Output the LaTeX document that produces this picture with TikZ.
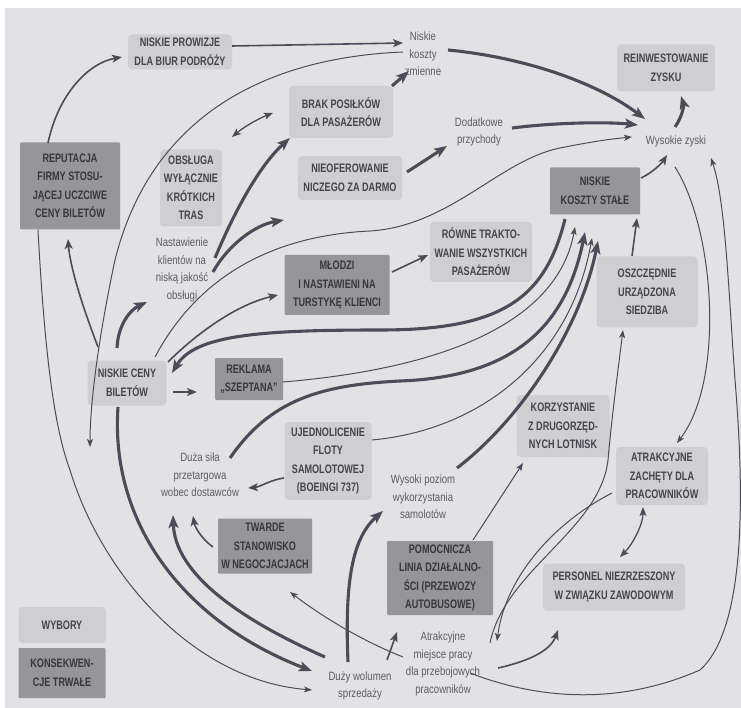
\documentclass[tikz,border=0pt]{standalone}
\usepackage{fontspec}
\setmainfont{Liberation Sans}
\newfontfamily\boxfont{Liberation Sans}[FakeStretch=0.74]
\newfontfamily\notefont{Liberation Sans}[FakeStretch=0.8]
\usetikzlibrary{arrows.meta,calc,positioning}

\definecolor{pagegray}{RGB}{226,226,229}
\definecolor{choicegray}{RGB}{207,207,210}
\definecolor{conseqgray}{RGB}{150,150,153}
\definecolor{boxtext}{RGB}{68,68,76}
\definecolor{darktext}{RGB}{54,54,60}
\definecolor{notetext}{RGB}{92,92,100}
\definecolor{linecol}{RGB}{76,76,88}

\tikzset{
	choice/.style={fill=choicegray, rounded corners=4pt, align=center, inner sep=2pt,
		text=boxtext, font=\boxfont\bfseries\fontsize{12.3}{18.5}\selectfont},
	conseq/.style={choice, fill=conseqgray, rounded corners=1pt, text=darktext},
	note/.style={align=center, inner sep=1pt, text=notetext,
		font=\notefont\fontsize{12}{17.5}\selectfont},
	link/.style={draw=linecol, line width=1pt, -{Stealth[length=8pt,width=6pt,inset=2pt]}},
	midlink/.style={draw=linecol, line width=1.6pt, -{Stealth[length=10pt,width=8pt,inset=2.5pt]}},
	boldlink/.style={draw=linecol, line width=3.1pt, -{Stealth[length=13pt,width=10pt,inset=3pt]}},
	twoway/.style={draw=linecol, line width=1.3pt, {Stealth[length=9pt,width=7pt,inset=2pt]}-{Stealth[length=9pt,width=7pt,inset=2pt]}}
}

\begin{document}
\begin{tikzpicture}[x=1pt,y=-1pt]

	% ---------------------
	% Page
	\useasboundingbox (0,0) rectangle (741,708);
	\fill[white] (0,0) rectangle (741,708);
	\fill[pagegray] (5,8) rectangle (741,708);

	% ---------------------
	% Wybory
	\node[choice, minimum width=104pt, minimum height=35pt] (Prowizje) at (180,52) {NISKIE PROWIZJE\\DLA BIUR PODRÓŻY};
	\node[choice, minimum width=98pt, minimum height=47pt] (Reinwestowanie) at (666,68) {REINWESTOWANIE\\ZYSKU};
	\node[choice, minimum width=104pt, minimum height=52pt] (BrakPosilkow) at (341,112) {BRAK POSIŁKÓW\\DLA PASAŻERÓW};
	\node[choice, minimum width=62pt, minimum height=77pt] (Obsluga) at (191,188) {OBSŁUGA\\WYŁĄCZNIE\\KRÓTKICH\\TRAS};
	\node[choice, minimum width=104pt, minimum height=44pt] (Nieoferowanie) at (350,178) {NIEOFEROWANIE\\NICZEGO ZA DARMO};
	\node[choice, minimum width=102pt, minimum height=60pt] (Rowne) at (481,252) {RÓWNE TRAKTO-\\WANIE WSZYSTKICH\\PASAŻERÓW};
	\node[choice, minimum width=101pt, minimum height=71pt] (Siedziba) at (647,292) {OSZCZĘDNIE\\URZĄDZONA\\SIEDZIBA};
	\node[choice, minimum width=79pt, minimum height=45pt] (NiskieCeny) at (127,383) {NISKIE CENY\\BILETÓW};
	\node[choice, minimum width=93pt, minimum height=62pt] (Lotniska) at (563,426) {KORZYSTANIE\\Z DRUGORZĘD-\\NYCH LOTNISK};
	\node[choice, minimum width=87pt, minimum height=78pt] (Flota) at (328,461) {UJEDNOLICENIE\\FLOTY\\SAMOLOTOWEJ\\(BOEINGI 737)};
	\node[choice, minimum width=92pt, minimum height=58pt] (Zachety) at (662,476) {ATRAKCYJNE\\ZACHĘTY DLA\\PRACOWNIKÓW};
	\node[choice, minimum width=142pt, minimum height=47pt] (Personel) at (614,587) {PERSONEL NIEZRZESZONY\\W ZWIĄZKU ZAWODOWYM};

	% ---------------------
	% Konsekwencje trwale
	\node[conseq, minimum width=100pt, minimum height=87pt] (Reputacja) at (70,186) {REPUTACJA\\FIRMY STOSU-\\JĄCEJ UCZCIWE\\CENY BILETÓW};
	\node[conseq, minimum width=90pt, minimum height=47pt] (KosztyStale) at (595,191) {NISKIE\\KOSZTY STAŁE};
	\node[conseq, minimum width=105pt, minimum height=60pt] (Mlodzi) at (337,285) {MŁODZI\\I NASTAWIENI NA\\TURSTYKĘ KLIENCI};
	\node[conseq, minimum width=68pt, minimum height=42pt] (Reklama) at (249,379) {REKLAMA\\„SZEPTANA”};
	\node[conseq, minimum width=94pt, minimum height=55pt] (Twarde) at (265,546) {TWARDE\\STANOWISKO\\W NEGOCJACJACH};
	\node[conseq, minimum width=106pt, minimum height=74pt] (Autobusy) at (440,578) {POMOCNICZA\\LINIA DZIAŁALNO-\\ŚCI (PRZEWOZY\\AUTOBUSOWE)};

	% ---------------------
	% Skutki (plain text)
	\node[note] (KosztyZmienne) at (423,54) {Niskie\\koszty\\zmienne};
	\node[note] (Przychody) at (479,132) {Dodatkowe\\przychody};
	\node[note] (Zyski) at (676,141) {Wysokie zyski};
	\node[note] (Nastawienie) at (182,270) {Nastawienie\\klientów na\\niską jakość\\obsługi};
	\node[note] (SilaPrzetargowa) at (200,475) {Duża siła\\przetargowa\\wobec dostawców};
	\node[note] (Wykorzystanie) at (423,497) {Wysoki poziom\\wykorzystania\\samolotów};
	\node[note] (Wolumen) at (360,686) {Duży wolumen\\sprzedaży};
	\node[note] (Miejsce) at (443,664) {Atrakcyjne\\miejsce pracy\\dla przebojowych\\pracowników};

	% ---------------------
	% Legend
	\node[choice, minimum width=87pt, minimum height=36pt] (Wybory) at (62,625) {WYBORY};
	\node[conseq, minimum width=87pt, minimum height=50pt] (Konsekwencje) at (62,673) {KONSEKWEN-\\CJE TRWAŁE};

	% ------------------------------------------------
	% Top part
	\draw[midlink] ($(Reputacja)+(-22,-43)$) .. controls (58,95) and (88,63) .. ($(Prowizje)+(-58,5)$);
	\draw[midlink] ($(Prowizje)+(52,-6)$) -- ($(KosztyZmienne)+(-20,-11)$);
	\draw[link] ($(KosztyZmienne)+(-20,-2)$) .. controls (260,58) and (150,120) .. (115,260)
		.. controls (100,330) and (90,400) .. (90,447);
	\draw[boldlink] ($(KosztyZmienne)+(25,-4)$) .. controls (530,58) and (600,85) .. ($(Zyski)+(-31,-22)$);
	\draw[boldlink] ($(BrakPosilkow)+(51,-26)$) -- ($(KosztyZmienne)+(-14,17)$);
	\draw[twoway] ($(Obsluga)+(41,-51)$) .. controls (245,126) and (260,118) .. ($(BrakPosilkow)+(-68,1)$);
	\draw[boldlink] ($(Nieoferowanie)+(57,-6)$) -- ($(Przychody)+(-32,14)$);
	\draw[boldlink] ($(Przychody)+(33,-4)$) .. controls (560,122) and (610,122) .. ($(Zyski)+(-38,-16)$);
	\draw[midlink] ($(KosztyStale)+(46,-13)$) .. controls (652,173) and (662,163) .. ($(Zyski)+(-9,14)$);
	\draw[boldlink] ($(Zyski)+(-1,-14)$) .. controls (682,117) and (684,106) .. ($(Reinwestowanie)+(15,28)$);
	\draw[midlink] ($(Siedziba)+(-15,-36)$) -- ($(KosztyStale)+(42,27)$);
	\draw[link] ($(Zyski)+(-1,26)$) .. controls (715,230) and (725,380) .. ($(Zachety)+(15,-33)$);

	% ------------------------------------------------
	% Niskie ceny biletow
	\draw[link] ($(NiskieCeny)+(28,-26)$) .. controls (195,282) and (265,236) .. (370,231)
		.. controls (450,226) and (500,160) .. (560,148)
		.. controls (590,142) and (610,139) .. ($(Zyski)+(-44,-4)$);
	\draw[midlink] ($(NiskieCeny)+(41,-21)$) .. controls (195,335) and (235,305) .. ($(Mlodzi)+(-59,10)$);
	\draw[boldlink] ($(NiskieCeny)+(-10,-35)$) .. controls (118,325) and (130,310) .. ($(Nastawienie)+(-35,32)$);
	\draw[boldlink] ($(Nastawienie)+(33,-12)$) .. controls (235,210) and (260,165) .. ($(BrakPosilkow)+(-51,26)$);
	\draw[boldlink] ($(Nastawienie)+(31,2)$) .. controls (228,245) and (255,225) .. ($(Nieoferowanie)+(-66,42)$);
	\draw[midlink] ($(Mlodzi)+(55,-13)$) -- ($(Rowne)+(-53,3)$);
	\draw[midlink] ($(NiskieCeny)+(46,9)$) -- ($(Reklama)+(-52,13)$);
	\draw[midlink] ($(NiskieCeny)+(-29,-36)$) .. controls (80,300) and (70,265) .. ($(Reputacja)+(-2,53)$);

	% ------------------------------------------------
	% Niskie koszty stale
	\draw[boldlink] ($(KosztyStale)+(-30,28)$) .. controls (545,300) and (500,330) .. (380,330)
		.. controls (260,330) and (195,335) .. ($(NiskieCeny)+(45,-10)$);
	\draw[link] ($(Reklama)+(34,3)$) .. controls (450,368) and (558,320) .. ($(KosztyStale)+(-20,36)$);
	\draw[boldlink] ($(SilaPrzetargowa)+(30,-17)$) .. controls (270,400) and (320,385) .. (400,381)
		.. controls (510,377) and (565,330) .. ($(KosztyStale)+(-10,41)$);
	\draw[link] ($(Flota)+(44,-21)$) .. controls (480,430) and (570,360) .. ($(KosztyStale)+(-3,47)$);
	\draw[boldlink] ($(Wykorzystanie)+(34,-29)$) .. controls (520,420) and (580,330) .. ($(KosztyStale)+(3,50)$);
	\draw[midlink] ($(Flota)+(-44,17)$) .. controls (270,480) and (260,487) .. ($(SilaPrzetargowa)+(48,13)$);

	% ------------------------------------------------
	% Bottom part
	\draw[boldlink] ($(NiskieCeny)+(-9,24)$) .. controls (110,520) and (180,620) .. ($(Wolumen)+(-48,-15)$);
	\draw[link] ($(Reputacja)+(-32,44)$) .. controls (45,360) and (55,430) .. (70,470)
		.. controls (100,570) and (190,680) .. ($(Wolumen)+(-48,4)$);
	\draw[boldlink] ($(Wolumen)+(-35,-29)$) .. controls (230,615) and (175,570) .. ($(SilaPrzetargowa)+(-27,40)$);
	\draw[midlink] ($(Twarde)+(-52,1)$) .. controls (203,540) and (195,528) .. ($(SilaPrzetargowa)+(-7,41)$);
	\draw[boldlink] ($(Wolumen)+(-12,-24)$) .. controls (345,590) and (350,540) .. ($(Wykorzystanie)+(-40,14)$);
	\draw[midlink] ($(Wolumen)+(27,-26)$) -- ($(Autobusy)+(-43,54)$);
	\draw[link] ($(Autobusy)+(33,-38)$) -- ($(Lotniska)+(-40,37)$);
	\draw[link] ($(Zachety)+(-50,17)$) .. controls (550,525) and (505,580) .. ($(Miejsce)+(54,-23)$);
	\draw[link] ($(Miejsce)+(47,-21)$) .. controls (505,570) and (600,530) .. (608,460)
		.. controls (612,415) and (618,370) .. ($(Siedziba)+(-24,38)$);
	\draw[midlink] ($(Miejsce)+(55,4)$) .. controls (525,662) and (550,652) .. ($(Personel)+(-56,43)$);
	\draw[twoway] ($(Zachety)+(-19,31)$) .. controls (643,525) and (632,545) .. ($(Personel)+(6,-30)$);
	\draw[link] ($(Miejsce)+(-40,-7)$) .. controls (360,640) and (320,615) .. ($(Twarde)+(25,46)$);
	\draw[link] ($(Miejsce)+(27,9)$) .. controls (540,700) and (620,705) .. (700,670)
		.. controls (745,630) and (745,500) .. (735,380)
		.. controls (728,280) and (725,200) .. ($(Zyski)+(35,17)$);

\end{tikzpicture}
\end{document}
